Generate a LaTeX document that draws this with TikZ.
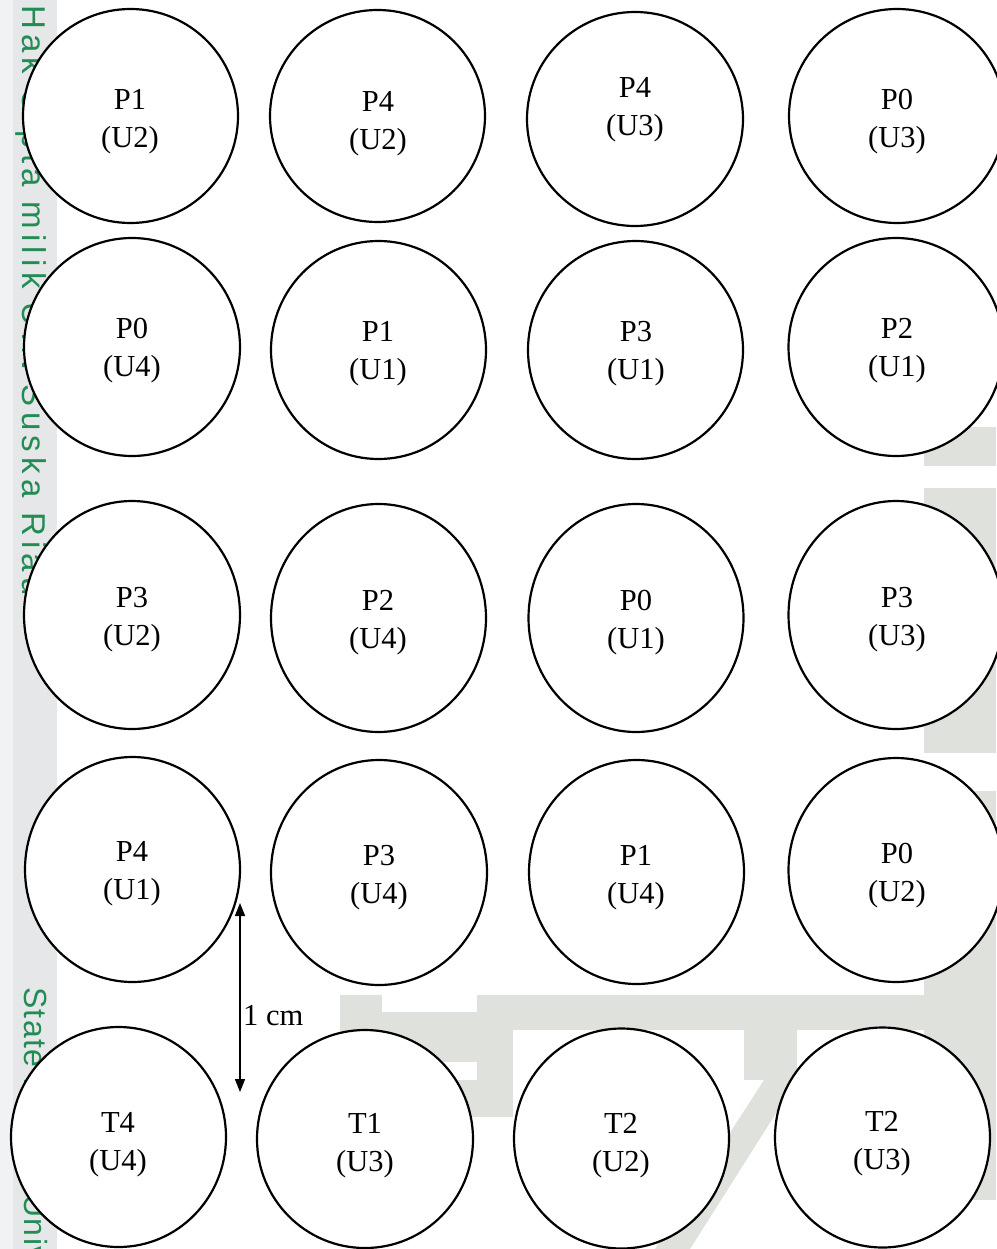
\documentclass[tikz,border=0pt]{standalone}
\usepackage{fontspec}
\setmainfont{Liberation Serif}
\newfontfamily\wmfont[LetterSpace=16]{Liberation Sans}
\newfontfamily\wmfontb[LetterSpace=4]{Liberation Sans}
\usetikzlibrary{arrows.meta,shapes.geometric}

\definecolor{wmgreen}{RGB}{35,140,85}
\definecolor{logogrey}{RGB}{222,225,220}
\definecolor{stripA}{RGB}{241,242,243}
\definecolor{stripB}{RGB}{229,231,232}

\tikzset{
  circ/.style={ellipse, draw=black, line width=2.2pt, fill=white, inner sep=0pt, outer sep=0pt},
  lbl/.style={align=center, font=\fontsize{30.5}{38}\selectfont, inner sep=0pt},
  wm/.style={text=wmgreen, font=\wmfont\fontsize{33}{33}\selectfont, rotate=-90, anchor=base west, inner sep=0pt},
  wmb/.style={text=wmgreen, font=\wmfontb\fontsize{32}{32}\selectfont, rotate=-90, anchor=base west, inner sep=0pt},
  dimarrow/.style={line width=1.6pt, {Triangle[width=10pt,length=13pt]}-{Triangle[width=10pt,length=13pt]}},
  dimlabel/.style={anchor=base west, font=\fontsize{30.5}{36}\selectfont, inner sep=0pt},
}

\begin{document}
\begin{tikzpicture}[x=1pt,y=-1pt]
\useasboundingbox (0,0) rectangle (996,1249);
\fill[white] (0,0) rectangle (996,1249);

% --- background watermark ---
\begin{scope}
\clip (0,0) rectangle (996,1249);
\fill[stripA] (0,0) rectangle (13,1249);
\fill[stripB] (13,0) rectangle (57,1249);
\fill[logogrey] (924,427) rectangle (996,466);
\fill[logogrey] (924,488) rectangle (996,753);
\fill[logogrey] (924,791) rectangle (996,1200);
\fill[logogrey] (340,995) rectangle (382,1117);
\fill[logogrey] (477,995) rectangle (924,1030);
\fill[logogrey] (382,1012) rectangle (477,1030);
\fill[logogrey] (382,1030) rectangle (513,1062);
\fill[logogrey] (340,1080) rectangle (513,1117);
\fill[logogrey] (477,1062) rectangle (513,1080);
\fill[logogrey] (744,1030) rectangle (797,1080);
\fill[logogrey] (764,1080) -- (797,1080) -- (690,1249) -- (655,1249) -- cycle;
\node[wm] (wm1) at (22,5) {Hak Cipta milik UIN Suska Riau};
\node[wmb] (wm2) at (24,987) {State Islamic University};
\end{scope}

% --- row 1 ---
\node[circ, minimum width=215, minimum height=214] (c11) at (130.5,116) {};
\node[circ, minimum width=215, minimum height=212] (c12) at (377.5,116) {};
\node[circ, minimum width=216, minimum height=214] (c13) at (635,119) {};
\node[circ, minimum width=216, minimum height=214] (c14) at (897,116) {};
% --- row 2 ---
\node[circ, minimum width=216, minimum height=218] (c21) at (132,347) {};
\node[circ, minimum width=215, minimum height=218] (c22) at (378.5,350) {};
\node[circ, minimum width=215, minimum height=218] (c23) at (635.5,350) {};
\node[circ, minimum width=215, minimum height=218] (c24) at (896,347) {};
% --- row 3 ---
\node[circ, minimum width=216, minimum height=228] (c31) at (132,615) {};
\node[circ, minimum width=215, minimum height=228] (c32) at (378.5,618) {};
\node[circ, minimum width=215, minimum height=228] (c33) at (636,618) {};
\node[circ, minimum width=215, minimum height=228] (c34) at (896,615) {};
% --- row 4 ---
\node[circ, minimum width=215, minimum height=225] (c41) at (132.5,869.5) {};
\node[circ, minimum width=216, minimum height=225] (c42) at (379,872.5) {};
\node[circ, minimum width=215, minimum height=224] (c43) at (636.5,872) {};
\node[circ, minimum width=215, minimum height=224] (c44) at (896,870) {};
% --- row 5 ---
\node[circ, minimum width=215, minimum height=220] (c51) at (118.5,1137) {};
\node[circ, minimum width=216, minimum height=218] (c52) at (365,1139) {};
\node[circ, minimum width=215, minimum height=220] (c53) at (621.5,1138.5) {};
\node[circ, minimum width=215, minimum height=220] (c54) at (882.5,1137.5) {};

% --- labels ---
\node[lbl] (t11) at (130,121.5) {P1\\(U2)};
\node[lbl] (t12) at (378,123.5) {P4\\(U2)};
\node[lbl] (t13) at (635,109.5) {P4\\(U3)};
\node[lbl] (t14) at (897,121.5) {P0\\(U3)};
\node[lbl] (t21) at (132,350.5) {P0\\(U4)};
\node[lbl] (t22) at (378,353.5) {P1\\(U1)};
\node[lbl] (t23) at (636,353.5) {P3\\(U1)};
\node[lbl] (t24) at (897,350.5) {P2\\(U1)};
\node[lbl] (t31) at (132,619.5) {P3\\(U2)};
\node[lbl] (t32) at (378,622.5) {P2\\(U4)};
\node[lbl] (t33) at (636,622.5) {P0\\(U1)};
\node[lbl] (t34) at (897,619.5) {P3\\(U3)};
\node[lbl] (t41) at (132,873.5) {P4\\(U1)};
\node[lbl] (t42) at (379,877.5) {P3\\(U4)};
\node[lbl] (t43) at (636,877.5) {P1\\(U4)};
\node[lbl] (t44) at (897,875.5) {P0\\(U2)};
\node[lbl] (t51) at (118,1144.5) {T4\\(U4)};
\node[lbl] (t52) at (365,1145.5) {T1\\(U3)};
\node[lbl] (t53) at (621,1145.5) {T2\\(U2)};
\node[lbl] (t54) at (882,1143.5) {T2\\(U3)};

% --- dimension arrow ---
\coordinate (a1) at (240,903);
\coordinate (a2) at (240,1092);
\draw[dimarrow] (a1) -- (a2);
\node[dimlabel] (dl) at (243,1025) {1 cm};
\end{tikzpicture}
\end{document}
